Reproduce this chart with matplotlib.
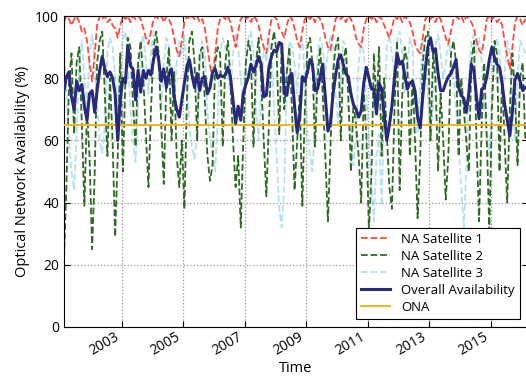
import pandas as pd
import matplotlib
matplotlib.use("Agg")
import matplotlib.pyplot as plt
import matplotlib.dates as mdates

plt.rcParams["font.family"] = ["Open Sans", "DejaVu Sans"]

# monthly values, Feb 2001 - Feb 2016
months = pd.date_range("2001-02-01", "2016-02-01", freq="MS") + pd.Timedelta(days=14)

overall = [
    76, 80.5, 82, 74, 70, 79, 76, 78, 71, 66.5,
    75, 76, 69, 76, 82.5, 87, 83, 80.5, 82, 80,
    75, 60, 73, 80, 78.5, 90.5, 84, 83, 73, 82.5,
    75.5, 82.5, 80, 82.5, 81, 86, 90, 86, 79, 83,
    77, 81.5, 83, 74, 70, 67.5, 73, 78.5, 84, 86,
    81, 77, 81.5, 76, 80, 80.5, 75, 77, 82, 83,
    80, 81, 80.5, 81, 83.5, 80.5, 73, 65.5, 71, 66.5,
    75, 78, 80.5, 84.5, 82, 84, 87, 84.5, 74, 74.5,
    83.5, 87, 89, 88.5, 91.5, 91, 75, 74.5, 80.5, 81.5,
    71, 62.5, 67.5, 80.5, 79, 82, 86, 84.5, 76, 76.5,
    80.5, 84.5, 74, 63, 65.5, 75, 81, 86, 87.5, 84.5,
    81.5, 80.5, 75, 71.5, 70, 67.5, 69.5, 78.5, 83.5, 80,
    76.5, 76.5, 68.5, 78.5, 76.5, 68.5, 60, 65, 71, 80.5,
    88, 84.5, 85.5, 81, 76.5, 78.5, 79, 76, 67.5, 64,
    74, 83, 90, 93, 88.5, 89.5, 81.5, 76, 76, 78.5,
    80.5, 81.5, 83.5, 86, 77, 74.5, 73.5, 69, 75, 84.5,
    82.5, 74, 67, 76.5, 77, 80.5, 86, 90, 86.5, 84.5,
    83.5, 78.5, 71.5, 66.5, 61.5, 69.5, 79.5, 81.5, 79, 76, 77,
]

sat1 = [
    98, 100, 99, 97, 99, 100, 98, 95, 96, 92,
    85, 79, 88, 97, 100, 99, 100, 98, 99, 97,
    96, 93, 97, 100, 99, 100, 98, 100, 99, 100,
    99, 96, 93, 91, 95, 99, 100, 99, 100, 98,
    100, 99, 97, 93, 89, 87, 92, 98, 100, 99,
    100, 99, 100, 98, 99, 96, 90, 84, 80, 88,
    96, 99, 100, 99, 100, 98, 94, 90, 95, 99,
    100, 99, 100, 98, 100, 99, 97, 93, 90, 88,
    94, 99, 100, 99, 96, 95, 93, 97, 100, 99,
    96, 92, 90, 95, 99, 100, 99, 100, 98, 100,
    99, 97, 93, 90, 89, 94, 99, 100, 99, 100,
    98, 100, 99, 97, 93, 91, 90, 96, 99, 100,
    99, 100, 98, 100, 99, 97, 95, 93, 96, 100,
    99, 100, 98, 100, 99, 98, 95, 91, 89, 88,
    93, 99, 100, 99, 100, 98, 100, 99, 96, 93,
    91, 95, 99, 100, 99, 100, 98, 100, 99, 98,
    96, 92, 89, 88, 93, 99, 100, 99, 100, 98,
    99, 97, 92, 87, 83, 90, 98, 100, 99, 97, 99,
]

sat2 = [
    22, 45, 78, 88, 62, 85, 90, 65, 39, 70,
    55, 25, 50, 85, 92, 95, 75, 55, 80, 60,
    29, 55, 88, 50, 80, 93, 90, 72, 58, 85,
    92, 80, 62, 45, 70, 90, 95, 88, 65, 46,
    80, 90, 60, 82, 55, 45, 60, 38, 75, 92,
    95, 85, 60, 88, 90, 72, 55, 47, 52, 85,
    90, 88, 58, 85, 92, 80, 60, 45, 55, 32,
    60, 85, 92, 88, 58, 85, 93, 80, 60, 42,
    65, 90, 95, 88, 62, 90, 70, 82, 90, 70,
    44, 60, 75, 39, 70, 90, 93, 85, 58, 80,
    90, 75, 55, 34, 58, 82, 90, 93, 60, 85,
    90, 75, 50, 72, 65, 55, 40, 75, 62, 31,
    50, 88, 70, 90, 55, 80, 62, 45, 38, 70,
    92, 44, 75, 90, 85, 55, 80, 60, 35, 55,
    85, 93, 95, 60, 88, 80, 50, 75, 60, 41,
    55, 88, 92, 85, 55, 80, 70, 60, 50, 85,
    92, 60, 34, 65, 85, 60, 31, 70, 92, 88,
    50, 80, 60, 40, 70, 88, 75, 52, 80, 85, 60,
]

sat3 = [
    90, 75, 60, 50, 44, 62, 85, 92, 80, 70,
    88, 94, 85, 72, 60, 56, 65, 88, 93, 90,
    80, 70, 86, 92, 95, 88, 70, 60, 53, 72,
    90, 94, 85, 75, 88, 95, 93, 82, 70, 85,
    93, 90, 80, 72, 85, 92, 88, 94, 80, 65,
    58, 54, 62, 85, 92, 88, 70, 60, 55, 50,
    68, 88, 93, 90, 82, 75, 88, 94, 90, 80,
    72, 85, 93, 95, 88, 70, 60, 75, 90, 85,
    93, 88, 70, 55, 38, 32, 45, 80, 92, 90,
    85, 75, 88, 93, 80, 62, 55, 50, 65, 88,
    93, 90, 82, 88, 94, 90, 75, 65, 80, 92,
    90, 70, 58, 52, 62, 85, 92, 88, 75, 60,
    45, 34, 55, 62, 39, 70, 90, 94, 88, 80,
    92, 95, 88, 75, 85, 93, 90, 70, 62, 78,
    92, 88, 75, 60, 72, 90, 94, 88, 80, 85,
    92, 88, 80, 70, 58, 45, 32, 50, 80, 92,
    94, 88, 93, 85, 70, 62, 55, 75, 90, 93,
    88, 75, 82, 92, 88, 70, 60, 80, 92, 90, 88,
]

ona = [65] * len(months)

year_ticks = ["2003", "2005", "2007", "2009", "2011", "2013", "2015"]

fig = plt.figure(figsize=(5.26, 3.79), dpi=100)
ax = fig.add_axes([64 / 526, 52 / 379, 463.5 / 526, 311 / 379])

ax.plot(months, sat1, "--", color="#ff4a3d", lw=1.3, label="NA Satellite 1", zorder=2)
ax.plot(months, sat2, "--", color="#2f6a25", lw=1.3, label="NA Satellite 2", zorder=2)
ax.plot(months, sat3, "--", color="#b5e2ee", lw=1.3, label="NA Satellite 3", zorder=1.5)
ax.plot(months, overall, "-", color="#272a7a", lw=2.2, label="Overall Availability", zorder=4)
ax.plot(months, ona, "-", color="#f5b31c", lw=1.4, label="ONA", zorder=3)

ax.set_xlim(pd.Timestamp("2001-02-15"), pd.Timestamp("2016-03-12"))
ax.set_ylim(0, 100)
ax.set_yticks([0, 20, 40, 60, 80, 100])
ax.set_xticks([pd.Timestamp(y + "-01-01") for y in year_ticks])
ax.xaxis.set_major_formatter(mdates.DateFormatter("%Y"))
plt.setp(ax.get_xticklabels(), rotation=30, ha="right")

ax.tick_params(direction="in", top=True, right=True, labelsize=10, length=4)
ax.tick_params(axis="x", pad=2)
ax.grid(True, linestyle=":", color="#999999", linewidth=0.9)

ax.set_xlabel("Time", fontsize=10.5, labelpad=2)
ax.set_ylabel("Optical Network Availability (%)", fontsize=10.5)

leg = ax.legend(loc="lower right", fontsize=9.5, fancybox=False, framealpha=1,
                edgecolor="black", handlelength=2.2, borderaxespad=0.6,
                labelspacing=0.3, borderpad=0.4)
leg.get_frame().set_linewidth(0.8)

fig.savefig("out.png", dpi=100)
